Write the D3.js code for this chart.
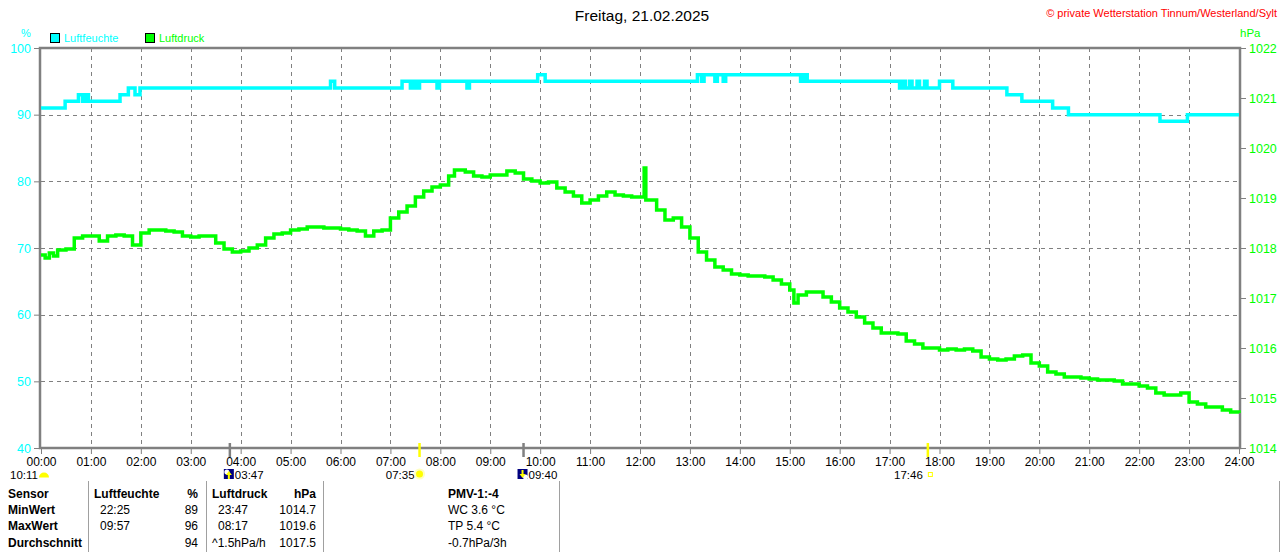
<!DOCTYPE html>
<html>
<head>
<meta charset="utf-8">
<script src="https://cdn.jsdelivr.net/npm/d3@7"></script>
<style>
 body { margin:0; background:#fff; }
 svg text { font-family: "Liberation Sans", Arial, sans-serif; }
</style>
</head>
<body>
<svg id="chart" width="1280" height="552"></svg>
<script>
// --- data ---
var hourLabels = ["00:00","01:00","02:00","03:00","04:00","05:00","06:00","07:00","08:00","09:00","10:00","11:00","12:00",
                  "13:00","14:00","15:00","16:00","17:00","18:00","19:00","20:00","21:00","22:00","23:00","24:00"];
var humTicks = [100, 90, 80, 70, 60, 50, 40];
var pressTicks = [1022, 1021, 1020, 1019, 1018, 1017, 1016, 1015, 1014];

// Luftfeuchte (%), change points
var humidity = [
 ["00:00",91],["00:29",92],["00:45",93],["00:50",92],["00:53",93],["00:57",92],["01:35",93],["01:45",94],["01:53",93],
 ["01:59",94],["05:48",95],["05:53",94],["07:14",95],["07:24",94],["07:28",95],["07:31",94],["07:35",95],["07:56",94],
 ["07:59",95],["08:32",94],["08:35",95],["09:57",96],["10:06",95],["13:09",96],["13:14",95],["13:17",96],["13:30",95],
 ["13:33",96],["13:40",95],["13:43",96],["15:13",95],["15:17",96],["15:21",95],["17:12",94],["17:16",95],["17:19",94],
 ["17:24",95],["17:27",94],["17:33",95],["17:36",94],["17:42",95],["17:45",94],["18:00",95],["18:16",94],["19:21",93],
 ["19:39",92],["20:16",91],["20:35",90],["22:25",89],["22:58",90],["24:00",90]
];

// Luftdruck (hPa)
var pressure = [
 ["00:00",1017.86],["00:05",1017.80],["00:10",1017.90],["00:15",1017.84],["00:20",1017.96],["00:30",1017.98],["00:40",1018.20],["00:50",1018.24],
 ["01:00",1018.24],["01:10",1018.14],["01:20",1018.24],["01:30",1018.26],["01:40",1018.24],["01:50",1018.06],
 ["02:00",1018.30],["02:10",1018.36],["02:20",1018.36],["02:30",1018.34],["02:40",1018.32],["02:50",1018.24],
 ["03:00",1018.22],["03:10",1018.24],["03:20",1018.24],["03:30",1018.10],["03:40",1017.98],["03:50",1017.92],
 ["04:00",1017.94],["04:10",1018.00],["04:20",1018.06],["04:30",1018.20],["04:40",1018.28],["04:50",1018.30],
 ["05:00",1018.36],["05:10",1018.38],["05:20",1018.42],["05:30",1018.42],["05:40",1018.40],["05:50",1018.40],
 ["06:00",1018.38],["06:10",1018.36],["06:20",1018.34],["06:30",1018.24],["06:40",1018.34],["06:50",1018.36],
 ["07:00",1018.60],["07:10",1018.72],["07:20",1018.84],["07:30",1019.02],["07:40",1019.14],["07:50",1019.22],
 ["08:00",1019.26],["08:10",1019.44],["08:17",1019.56],["08:30",1019.52],["08:40",1019.44],["08:50",1019.42],
 ["09:00",1019.46],["09:10",1019.46],["09:20",1019.54],["09:30",1019.50],["09:40",1019.38],["09:50",1019.34],
 ["10:00",1019.30],["10:10",1019.32],["10:20",1019.20],["10:30",1019.12],["10:40",1019.04],["10:50",1018.90],
 ["11:00",1018.96],["11:10",1019.04],["11:20",1019.12],["11:30",1019.06],["11:40",1019.04],["11:50",1019.02],
 ["12:03",1019.02],["12:05",1019.60],["12:07",1018.96],["12:20",1018.76],["12:30",1018.56],["12:40",1018.60],["12:50",1018.42],
 ["13:00",1018.20],["13:10",1017.92],["13:20",1017.76],["13:30",1017.62],["13:40",1017.56],["13:50",1017.48],
 ["14:00",1017.46],["14:10",1017.44],["14:20",1017.44],["14:30",1017.42],["14:40",1017.36],["14:50",1017.28],
 ["15:00",1017.16],["15:05",1016.90],["15:10",1017.06],["15:20",1017.12],["15:30",1017.12],["15:40",1017.02],["15:50",1016.92],
 ["16:00",1016.80],["16:10",1016.72],["16:20",1016.62],["16:30",1016.50],["16:40",1016.40],["16:50",1016.30],
 ["17:00",1016.30],["17:10",1016.28],["17:20",1016.14],["17:30",1016.08],["17:40",1016.00],["17:50",1016.00],
 ["18:00",1015.96],["18:10",1015.98],["18:20",1015.96],["18:30",1015.98],["18:40",1015.94],["18:50",1015.82],
 ["19:00",1015.78],["19:10",1015.76],["19:20",1015.78],["19:30",1015.84],["19:40",1015.86],["19:50",1015.70],
 ["20:00",1015.64],["20:10",1015.52],["20:20",1015.48],["20:30",1015.42],["20:40",1015.42],["20:50",1015.40],
 ["21:00",1015.38],["21:10",1015.36],["21:20",1015.36],["21:30",1015.34],["21:40",1015.28],["21:50",1015.28],
 ["22:00",1015.24],["22:10",1015.20],["22:20",1015.10],["22:30",1015.06],["22:40",1015.06],["22:50",1015.10],
 ["23:00",1014.92],["23:10",1014.88],["23:20",1014.82],["23:30",1014.82],["23:40",1014.76],["23:50",1014.72],["24:00",1014.70]
];

// sun / moon markers
var sunMarks = ["07:35", "17:46"];
var moonMarks = [["03:47", "up"], ["09:40", "down"]];
var dayLength = "10:11";

// table
var tableHead = ["Sensor", "Luftfeuchte", "%", "Luftdruck", "hPa"];
var rowNames = ["MinWert", "MaxWert", "Durchschnitt"];
var humTimes = ["22:25", "09:57", ""];
var humVals = ["89", "96", "94"];
var pressTimesTxt = ["23:47", "08:17", "^1.5hPa/h"];
var pressVals = ["1014.7", "1019.6", "1017.5"];
var pmvLines = ["PMV-1:-4", "WC 3.6 °C", "TP 5.4 °C", "-0.7hPa/3h"];

// --- drawing ---
var svg = d3.select("#chart");
var L = 41, R = 1239, T = 48, B = 448;
var gray = "#808080", cyan = "#00ffff", green = "#00ff00";
var FONT = "Liberation Sans, Arial, sans-serif";

function hrs(s) { var p = s.split(":"); return +p[0] + (+p[1]) / 60; }

var x = d3.scaleLinear().domain([0, 24]).range([L, R]);
var yH = d3.scaleLinear().domain([40, 100]).range([B, T]);
var yP = d3.scaleLinear().domain([1014, 1022]).range([B, T]);

// title texts
svg.append("text").attr("x", 642).attr("y", 21).attr("text-anchor", "middle")
  .style("font-size", "15.5px").text("Freitag, 21.02.2025");
svg.append("text").attr("x", 1277).attr("y", 17).attr("text-anchor", "end")
  .style("font-size", "11px").style("fill", "#ff0000")
  .text("© private Wetterstation Tinnum/Westerland/Sylt");
svg.append("text").attr("x", 26).attr("y", 37).attr("text-anchor", "middle")
  .style("font-size", "11px").style("fill", cyan).text("%");
svg.append("text").attr("x", 1240).attr("y", 37)
  .style("font-size", "11.5px").style("fill", green).text("hPa");

// legend
var legend = [["Luftfeuchte", cyan, 50], ["Luftdruck", green, 145]];
legend.forEach(function (d) {
  svg.append("rect").attr("x", d[2] + 0.5).attr("y", 33.5).attr("width", 9).attr("height", 9)
    .style("fill", d[1]).style("stroke", "#000").style("stroke-width", 1);
  svg.append("text").attr("x", d[2] + 14).attr("y", 42)
    .style("font-size", "11px").style("fill", d[1]).text(d[0]);
});

// grid
var grid = svg.append("g");
grid.selectAll("line.v").data(d3.range(1, 24)).enter().append("line")
  .attr("x1", function (d) { return Math.round(x(d)) + 0.5; })
  .attr("x2", function (d) { return Math.round(x(d)) + 0.5; })
  .attr("y1", T).attr("y2", B)
  .style("stroke", gray).style("stroke-dasharray", "4,4");
grid.selectAll("line.h").data(humTicks.filter(function (d) { return d > 40 && d < 100; })).enter().append("line")
  .attr("y1", function (d) { return Math.round(yH(d)) + 0.5; })
  .attr("y2", function (d) { return Math.round(yH(d)) + 0.5; })
  .attr("x1", L).attr("x2", R)
  .style("stroke", gray).style("stroke-dasharray", "4,4");

// axes
var yAxisL = d3.axisLeft(yH).tickValues(humTicks).tickSize(6).tickPadding(3).tickFormat(d3.format("d"));
var gl = svg.append("g").attr("transform", "translate(" + (L - 1) + ",0)").call(yAxisL);
gl.select(".domain").remove();
gl.selectAll("line").style("stroke", gray);
gl.selectAll("text").style("fill", cyan).style("font-size", "12.5px").style("font-family", FONT);

var yAxisR = d3.axisRight(yP).tickValues(pressTicks).tickSize(6).tickPadding(3).tickFormat(d3.format("d"));
var gr = svg.append("g").attr("transform", "translate(" + (R + 1) + ",0)").call(yAxisR);
gr.select(".domain").remove();
gr.selectAll("line").style("stroke", gray);
gr.selectAll("text").style("fill", green).style("font-size", "12.5px").style("font-family", FONT);

var xAxis = d3.axisBottom(x).tickValues(d3.range(0, 25)).tickSize(5).tickPadding(5)
  .tickFormat(function (d, i) { return hourLabels[i]; });
var gx = svg.append("g").attr("transform", "translate(0," + (B + 1) + ")").call(xAxis);
gx.select(".domain").remove();
gx.selectAll("line").style("stroke", gray);
gx.selectAll("text").attr("y", 17).attr("dy", null)
  .style("fill", "#000").style("font-size", "12px").style("font-family", FONT);

// frame
svg.append("rect").attr("x", L - 1).attr("y", T).attr("width", R - L + 2).attr("height", B - T)
  .style("fill", "none").style("stroke", gray).style("stroke-width", 2.5);

// series
var lineH = d3.line().curve(d3.curveStepAfter)
  .x(function (d) { return x(hrs(d[0])); }).y(function (d) { return yH(d[1]); });
var lineP = d3.line().curve(d3.curveStepAfter)
  .x(function (d) { return x(hrs(d[0])); }).y(function (d) { return yP(d[1]); });

svg.append("path").datum(humidity).attr("d", lineH)
  .style("fill", "none").style("stroke", cyan).style("stroke-width", 3.5);
svg.append("path").datum(pressure).attr("d", lineP)
  .style("fill", "none").style("stroke", green).style("stroke-width", 3.5);

// sun rise/set markers
sunMarks.forEach(function (t) {
  svg.append("line").attr("x1", x(hrs(t))).attr("x2", x(hrs(t))).attr("y1", 443).attr("y2", 457)
    .style("stroke", "#ffff00").style("stroke-width", 2.5);
});
moonMarks.forEach(function (m) {
  svg.append("line").attr("x1", x(hrs(m[0]))).attr("x2", x(hrs(m[0]))).attr("y1", 443).attr("y2", 457)
    .style("stroke", gray).style("stroke-width", 2.5);
});

// second row: day length and times with icons
var fs = "11.5px", rowB = 479;
svg.append("text").attr("x", 10).attr("y", rowB).style("font-size", fs).text(dayLength);
svg.append("path").attr("d", d3.arc()({ innerRadius: 0, outerRadius: 5, startAngle: -Math.PI / 2, endAngle: Math.PI / 2 }))
  .attr("transform", "translate(44,477.5)").style("fill", "#ffff00");

// sunrise
var sx = x(hrs(sunMarks[0]));
svg.append("text").attr("x", sx - 5).attr("y", rowB).attr("text-anchor", "end").style("font-size", fs).text(sunMarks[0]);
svg.append("circle").attr("cx", sx).attr("cy", 474).attr("r", 5.5).style("fill", "#ffffc0");
svg.append("circle").attr("cx", sx).attr("cy", 474).attr("r", 3.5).style("fill", "#ffff00");
// sunset
var ssx = x(hrs(sunMarks[1]));
svg.append("text").attr("x", ssx - 5).attr("y", rowB).attr("text-anchor", "end").style("font-size", fs).text(sunMarks[1]);
svg.append("rect").attr("x", ssx + 0.5).attr("y", 472.5).attr("width", 4).attr("height", 4)
  .style("fill", "none").style("stroke", "#ffff00");

// moon rise / set
moonMarks.forEach(function (m) {
  var mx = x(hrs(m[0]));
  var g = svg.append("g").attr("transform", "translate(" + (mx - 6) + ",469)");
  g.append("rect").attr("width", 10).attr("height", 10).style("fill", "#000080");
  g.append("circle").attr("cx", m[1] == "up" ? 3 : 8).attr("cy", m[1] == "up" ? 3 : 8).attr("r", 2.5).style("fill", "#fff");
  var arrow = m[1] == "up" ? "M5 2 L8 6 L6 6 L6 10 L4 10 L4 6 L2 6Z" : "M5 9 L8 5 L6 5 L6 1 L4 1 L4 5 L2 5Z";
  g.append("path").attr("d", arrow).style("fill", "#ffff00");
  svg.append("text").attr("x", mx + 5).attr("y", rowB).style("font-size", fs).text(m[0]);
});

// table
[88, 206, 323, 559, 1279].forEach(function (vx) {
  svg.append("line").attr("x1", vx + 0.5).attr("x2", vx + 0.5).attr("y1", 481).attr("y2", 552)
    .style("stroke", "#a0a0a0");
});
var rowY = [498, 514, 530, 547];
var tbl = svg.append("g").style("font-size", "12px");
function txt(xp, yp, s, anchor, bold) {
  tbl.append("text").attr("x", xp).attr("y", yp).attr("text-anchor", anchor || "start")
    .style("font-weight", bold ? "bold" : "normal").text(s);
}
txt(8, rowY[0], tableHead[0], "start", true);
txt(94, rowY[0], tableHead[1], "start", true);
txt(198, rowY[0], tableHead[2], "end", true);
txt(212, rowY[0], tableHead[3], "start", true);
txt(316, rowY[0], tableHead[4], "end", true);
rowNames.forEach(function (n, i) {
  var yy = rowY[i + 1];
  txt(8, yy, n, "start", true);
  txt(100, yy, humTimes[i]);
  txt(198, yy, humVals[i], "end");
  txt(i == 2 ? 212 : 218, yy, pressTimesTxt[i]);
  txt(316, yy, pressVals[i], "end");
});
pmvLines.forEach(function (s, i) {
  txt(448, rowY[i], s, "start", i == 0);
});
</script>
</body>
</html>
